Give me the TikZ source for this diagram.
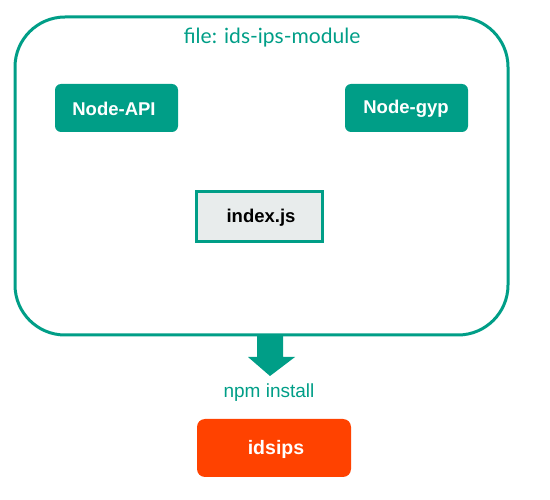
\documentclass[tikz,border=0pt]{standalone}
\usepackage{fontspec}
\setmainfont{Lato}
\newfontfamily\arialf{Liberation Sans}
\definecolor{teal1}{HTML}{009E87}
\definecolor{grayfill}{HTML}{E8ECEC}
\definecolor{orangered}{HTML}{FF4200}
\tikzset{
  px/.style={x=1pt,y=-1pt},
  tealbox/.style={fill=teal1,rounded corners=6pt},
  boxtext/.style={text=white,font=\arialf\fontsize{18.5}{21}\selectfont\bfseries},
}
\begin{document}
\begin{tikzpicture}[px]
\useasboundingbox (0,0) rectangle (550,500);
\draw[teal1,line width=3pt,rounded corners=50pt] (15,17) rectangle (508,335);
\node[text=teal1,font=\fontsize{21}{24}\selectfont] (title) at (272,38) {file: ids-ips-module};
\fill[tealbox] (55,84) rectangle (178,132);
\node[boxtext] (api) at (114,109) {Node-API};
\fill[tealbox] (345,84) rectangle (468,132);
\node[boxtext] (gyp) at (406,109) {Node-gyp};
\draw[teal1,fill=grayfill,line width=3pt] (196,192) rectangle (322,242);
\node[boxtext,text=black] (idx) at (261,218) {index.js};
\fill[teal1] (257,336) -- (283,336) -- (283,357) -- (295,357) -- (270,376) -- (248,357) -- (257,357) -- cycle;
\node[text=teal1,font=\arialf\fontsize{19}{22}\selectfont] (npm) at (269,393) {npm install};
\fill[orangered,rounded corners=8pt] (197,419) rectangle (351,477);
\node[boxtext,font=\arialf\fontsize{19.5}{22}\selectfont\bfseries] (ids) at (276,449) {idsips};
\end{tikzpicture}
\end{document}
